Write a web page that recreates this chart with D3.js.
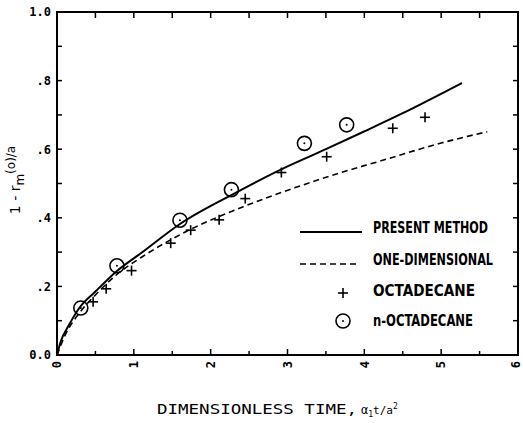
<!DOCTYPE html>
<html><head><meta charset="utf-8">
<script src="https://cdn.jsdelivr.net/npm/d3@7"></script>
<style>
body{margin:0;background:#fff;}
svg{display:block;}
text{fill:#000;}
</style></head>
<body><svg id="c" width="523" height="423"></svg>
<script>
// ---- data ----
const xTicks = [0,1,2,3,4,5,6];
const xTickLabels = ["0","1","2","3","4","5","6"];
const yTicks = [0,0.2,0.4,0.6,0.8,1.0];
const yTickLabels = ["0.0",".2",".4",".6",".8","1.0"];
const presentX = [0,0.05,0.15,0.3,0.5,0.78,1.1,1.6,2.3,3.0,3.5,4.0,4.5,5.27];
const presentY = [0,0.04,0.085,0.14,0.185,0.245,0.298,0.382,0.47,0.55,0.6,0.652,0.705,0.793];
const oneDimX = [0,0.1,0.3,0.5,0.78,1.1,1.7,2.4,3.1,3.7,4.2,5.0,5.6];
const oneDimY = [0,0.055,0.125,0.175,0.235,0.285,0.362,0.43,0.488,0.532,0.565,0.618,0.651];
const octX = [0.47,0.64,0.97,1.48,1.74,2.11,2.45,2.92,3.51,4.37,4.79];
const octY = [0.155,0.193,0.246,0.326,0.364,0.394,0.456,0.532,0.578,0.661,0.693];
const nOctX = [0.31,0.78,1.60,2.27,3.22,3.77];
const nOctY = [0.137,0.26,0.393,0.482,0.617,0.671];
const legendLabels = ["PRESENT METHOD","ONE-DIMENSIONAL","OCTADECANE","n-OCTADECANE"];

const svg = d3.select("#c");
const L=57, R=518, T=12, B=355;
const x = d3.scaleLinear().domain([0,6]).range([L,R]);
const y = d3.scaleLinear().domain([0,1]).range([B,T]);
const F = "'DejaVu Sans Mono', 'Liberation Mono', monospace";
const FN = "'Liberation Sans Narrow','DejaVu Sans Condensed','Liberation Sans',sans-serif";

// frame
svg.append("rect").attr("x",L).attr("y",T).attr("width",R-L).attr("height",B-T)
  .attr("fill","none").attr("stroke","#000").attr("stroke-width",2);

// ticks (inward)
svg.append("g").selectAll("line").data(d3.range(0,6.01,0.5)).join("line")
  .attr("x1",d=>x(d)).attr("x2",d=>x(d)).attr("y1",B).attr("y2",d=>B-(d%1===0?6:4))
  .attr("stroke","#000").attr("stroke-width",1.5);
svg.append("g").selectAll("line").data(d3.range(0.5,5.51,0.5)).join("line")
  .attr("x1",d=>x(d)).attr("x2",d=>x(d)).attr("y1",T).attr("y2",T+6)
  .attr("stroke","#000").attr("stroke-width",1.5);
svg.append("g").selectAll("line").data(d3.range(0.1,0.95,0.1)).join("line")
  .attr("x1",L).attr("x2",L+5).attr("y1",d=>y(d)).attr("y2",d=>y(d))
  .attr("stroke","#000").attr("stroke-width",1.5);
svg.append("g").selectAll("line").data(d3.range(0.1,0.95,0.1)).join("line")
  .attr("x1",R).attr("x2",R-5).attr("y1",d=>y(d)).attr("y2",d=>y(d))
  .attr("stroke","#000").attr("stroke-width",1.5);

// tick labels
svg.append("g").selectAll("text").data(yTicks).join("text")
  .attr("x",L-6).attr("y",d=>y(d)).attr("dy","0.36em").attr("text-anchor","end")
  .attr("font-family",F).attr("font-weight","bold").attr("font-size",12)
  .text((d,i)=>yTickLabels[i]);
svg.append("g").selectAll("text").data(xTicks).join("text")
  .attr("transform",d=>`translate(${Math.min(x(d),516)},${B+6}) rotate(-90)`)
  .attr("dy","0.36em").attr("text-anchor","end")
  .attr("font-family",F).attr("font-weight","bold").attr("font-size",12)
  .text((d,i)=>xTickLabels[i]);

// axis titles
const yt = svg.append("text").attr("transform",`translate(20,180) rotate(-90)`)
  .attr("text-anchor","middle").attr("font-family","'DejaVu Sans',sans-serif").attr("font-size",14);
yt.append("tspan").text("1 - r");
yt.append("tspan").attr("dy",4).attr("font-size",12).text("m");
yt.append("tspan").attr("dy",-9).attr("font-size",12).text("(o)/a");

const xt = svg.append("text").attr("x",157).attr("y",414)
  .attr("font-family","'DejaVu Sans Mono',monospace").attr("font-size",14);
xt.append("tspan").attr("textLength",200).attr("lengthAdjust","spacingAndGlyphs").text("DIMENSIONLESS TIME,");
xt.append("tspan").attr("dx",4).attr("font-size",12).text("α");
xt.append("tspan").attr("dy",3).attr("font-size",8).text("1");
xt.append("tspan").attr("dy",-3).attr("font-size",11).text("t/a");
xt.append("tspan").attr("dy",-5).attr("font-size",8).text("2");

// curves
const line = d3.line().x(d=>x(d[0])).y(d=>y(d[1])).curve(d3.curveMonotoneX);
svg.append("path").datum(presentX.map((v,i)=>[v,presentY[i]])).attr("d",line)
  .attr("fill","none").attr("stroke","#000").attr("stroke-width",2);
svg.append("path").datum(oneDimX.map((v,i)=>[v,oneDimY[i]])).attr("d",line)
  .attr("fill","none").attr("stroke","#000").attr("stroke-width",1.6).attr("stroke-dasharray","6,4");

// markers
function plus(g,cx,cy){
  g.append("line").attr("x1",cx-5).attr("x2",cx+5).attr("y1",cy).attr("y2",cy).attr("stroke","#000").attr("stroke-width",1.6);
  g.append("line").attr("x1",cx).attr("x2",cx).attr("y1",cy-5).attr("y2",cy+5).attr("stroke","#000").attr("stroke-width",1.6);
}
function circ(g,cx,cy){
  g.append("circle").attr("cx",cx).attr("cy",cy).attr("r",7).attr("fill","none").attr("stroke","#000").attr("stroke-width",1.6);
  g.append("circle").attr("cx",cx).attr("cy",cy).attr("r",1).attr("fill","#000");
}
const gp = svg.append("g");
octX.forEach((v,i)=>plus(gp,x(v),y(octY[i])));
const gc = svg.append("g");
nOctX.forEach((v,i)=>circ(gc,x(v),y(nOctY[i])));

// legend
const rowsY=[228,260,291,321];
const widths=[115,120,102,100];
const lg = svg.append("g");
lg.append("line").attr("x1",300).attr("x2",362).attr("y1",232).attr("y2",232).attr("stroke","#000").attr("stroke-width",2);
lg.append("line").attr("x1",300).attr("x2",360).attr("y1",264).attr("y2",264).attr("stroke","#000").attr("stroke-width",1.6).attr("stroke-dasharray","6,4");
plus(lg,343,293);
circ(lg,343,321);
legendLabels.forEach((t,i)=>{
  lg.append("text").attr("x",373).attr("y",rowsY[i]).attr("dy","0.36em")
    .attr("font-family",FN).attr("font-weight","bold").attr("font-size",15)
    .attr("textLength",widths[i]).attr("lengthAdjust","spacingAndGlyphs").text(t);
});
</script></body></html>
